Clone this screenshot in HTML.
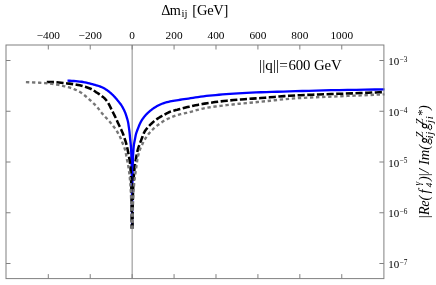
<!DOCTYPE html>
<html><head><meta charset="utf-8"><style>
html,body{margin:0;padding:0;background:#fff;}
svg{display:block;font-family:"Liberation Serif",serif;will-change:transform;opacity:0.999;}
</style></head><body>
<svg width="436" height="285" viewBox="0 0 436 285">
<rect width="436" height="285" fill="#fff"/>
<line x1="132.15" y1="45.0" x2="132.15" y2="278.6" stroke="#767676" stroke-width="0.85"/>
<g>
<path d="M67.50,80.70 L69.70,80.77 L71.83,80.87 L73.89,81.01 L75.87,81.17 L77.79,81.35 L79.65,81.55 L81.44,81.75 L83.16,82.01 L84.83,82.33 L86.45,82.69 L88.00,83.07 L89.51,83.46 L90.96,83.84 L92.36,84.19 L93.72,84.55 L95.03,84.92 L96.29,85.29 L97.52,85.65 L98.70,86.02 L99.84,86.41 L100.94,86.84 L102.00,87.30 L103.03,87.80 L104.02,88.33 L104.98,88.87 L105.90,89.43 L106.80,90.02 L107.66,90.63 L108.49,91.26 L109.30,91.89 L110.08,92.53 L110.83,93.17 L111.55,93.82 L112.25,94.48 L112.93,95.15 L113.59,95.81 L114.22,96.46 L114.83,97.12 L115.42,97.78 L115.99,98.45 L116.54,99.11 L117.07,99.76 L117.58,100.39 L118.07,100.99 L118.55,101.56 L119.02,102.12 L119.46,102.65 L119.89,103.19 L120.31,103.72 L120.71,104.27 L121.10,104.84 L121.48,105.42 L121.84,106.00 L122.19,106.58 L122.53,107.17 L122.85,107.76 L123.17,108.35 L123.47,108.93 L123.77,109.51 L124.05,110.09 L124.33,110.67 L124.59,111.25 L124.85,111.84 L125.09,112.43 L125.33,113.03 L125.56,113.64 L125.79,114.26 L126.00,114.90 L126.21,115.54 L126.41,116.18 L126.61,116.81 L126.79,117.44 L126.97,118.05 L127.15,118.64 L127.32,119.20 L127.48,119.76 L127.64,120.33 L127.79,120.92 L127.94,121.54 L128.08,122.20 L128.22,122.94 L128.35,123.76 L128.48,124.62 L128.60,125.50 L128.72,126.35 L128.84,127.14 L128.95,127.88 L129.05,128.60 L129.16,129.32 L129.26,130.07 L129.36,130.85 L129.45,131.66 L129.54,132.47 L129.63,133.29 L129.71,134.12 L129.79,134.97 L129.87,135.86 L129.95,136.75 L130.02,137.61 L130.09,138.40 L130.16,139.11 L130.23,139.74 L130.29,140.32 L130.35,140.87 L130.41,141.39 L130.47,141.89 L130.53,142.37 L130.58,142.84 L130.63,143.31 L130.68,143.78 L130.73,144.25 L130.78,144.75 L130.82,145.27 L130.87,145.82 L130.91,146.40 L130.95,147.01 L130.99,147.63 L131.03,148.26 L131.06,148.91 L131.10,149.56 L131.13,150.23 L131.16,150.90 L131.20,151.59 L131.23,152.28 L131.26,152.99 L131.29,153.70 L131.31,154.42 L131.34,155.16 L131.37,155.89 L131.39,156.64 L131.42,157.40 L131.44,158.16 L131.46,158.92 L131.48,159.70 L131.50,160.47 L131.52,161.26 L131.54,162.05 L131.56,162.84 L131.58,163.64 L131.60,164.44 L131.62,165.25 L131.63,166.06 L131.65,166.87 L131.66,167.68 L131.68,168.50 L131.69,169.31 L131.71,170.13 L131.72,170.95 L131.73,171.77 L131.75,172.59 L131.76,173.41 L131.77,174.23 L131.78,175.05 L131.79,175.87 L131.80,176.69 L131.81,177.50 L131.82,178.31 L131.83,179.12 L131.84,179.93 L131.85,180.73 L131.86,181.53 L131.87,182.32 L131.87,183.11 L131.88,183.90 L131.89,184.67 L131.90,185.45 L131.90,186.22 L131.91,186.98 L131.92,187.75 L131.92,188.51 L131.93,189.28 L131.94,190.04 L131.94,190.81 L131.95,191.57 L131.95,192.34 L131.96,193.10 L131.96,193.87 L131.97,194.63 L131.97,195.40 L131.98,196.16 L131.98,196.93 L131.98,197.69 L131.99,198.46 L131.99,199.22 L131.99,199.99 L132.00,200.75 L132.00,201.52 L132.01,202.28 L132.01,203.05 L132.01,203.81 L132.01,204.58 L132.02,205.34 L132.02,206.11 L132.02,206.87 L132.03,207.64 L132.03,208.40 L132.03,209.17 L132.03,209.93 L132.04,210.70 L132.04,211.46 L132.04,212.23 L132.04,212.99 L132.04,213.76 L132.05,214.52 L132.05,215.29 L132.05,216.05 L132.05,216.82 L132.05,217.58 L132.05,218.35 L132.06,219.11 L132.06,219.88 L132.06,220.64 L132.06,221.41 L132.06,222.17 L132.06,222.94 L132.06,223.70 L132.07,224.47 L132.07,225.23 L132.07,226.00 L132.14,226.00 L132.15,225.13 L132.15,224.26 L132.15,223.39 L132.15,222.52 L132.15,221.65 L132.16,220.78 L132.16,219.91 L132.16,219.04 L132.16,218.17 L132.17,217.30 L132.17,216.43 L132.17,215.56 L132.17,214.69 L132.18,213.82 L132.18,212.95 L132.18,212.08 L132.19,211.21 L132.19,210.34 L132.19,209.47 L132.20,208.60 L132.20,207.73 L132.21,206.86 L132.21,205.99 L132.21,205.12 L132.22,204.25 L132.22,203.38 L132.23,202.51 L132.23,201.64 L132.24,200.76 L132.25,199.89 L132.25,199.02 L132.26,198.15 L132.26,197.28 L132.27,196.41 L132.28,195.54 L132.28,194.67 L132.29,193.80 L132.30,192.93 L132.31,192.06 L132.32,191.19 L132.32,190.32 L132.33,189.45 L132.34,188.58 L132.35,187.71 L132.36,186.84 L132.37,185.97 L132.38,185.09 L132.40,184.21 L132.41,183.31 L132.42,182.40 L132.43,181.49 L132.45,180.57 L132.46,179.64 L132.47,178.70 L132.49,177.76 L132.50,176.82 L132.52,175.87 L132.54,174.92 L132.56,173.97 L132.57,173.02 L132.59,172.06 L132.61,171.11 L132.63,170.15 L132.66,169.20 L132.68,168.25 L132.70,167.30 L132.72,166.36 L132.75,165.42 L132.78,164.48 L132.80,163.55 L132.83,162.63 L132.86,161.72 L132.89,160.81 L132.92,159.91 L132.96,159.02 L132.99,158.14 L133.03,157.27 L133.06,156.42 L133.10,155.57 L133.14,154.74 L133.19,153.92 L133.23,153.12 L133.28,152.33 L133.32,151.56 L133.37,150.81 L133.42,150.07 L133.48,149.35 L133.53,148.65 L133.59,147.97 L133.65,147.31 L133.71,146.67 L133.78,146.05 L133.84,145.47 L133.91,144.92 L133.99,144.40 L134.06,143.90 L134.14,143.41 L134.23,142.94 L134.31,142.47 L134.40,142.01 L134.49,141.54 L134.59,141.05 L134.69,140.56 L134.79,140.04 L134.90,139.50 L135.01,138.93 L135.13,138.30 L135.25,137.64 L135.38,136.95 L135.51,136.24 L135.65,135.54 L135.79,134.87 L135.94,134.23 L136.10,133.64 L136.26,133.08 L136.43,132.56 L136.60,132.05 L136.78,131.55 L136.97,131.05 L137.17,130.55 L137.37,130.04 L137.58,129.51 L137.80,128.95 L138.03,128.36 L138.27,127.73 L138.52,127.08 L138.78,126.41 L139.05,125.73 L139.33,125.04 L139.62,124.36 L139.92,123.69 L140.24,123.03 L140.56,122.39 L140.90,121.76 L141.26,121.13 L141.63,120.51 L142.01,119.90 L142.41,119.28 L142.82,118.67 L143.26,118.06 L143.71,117.46 L144.17,116.86 L144.66,116.26 L145.17,115.66 L145.69,115.07 L146.24,114.48 L146.81,113.89 L147.40,113.30 L148.02,112.72 L148.66,112.14 L149.32,111.56 L150.02,110.98 L150.74,110.39 L151.49,109.79 L152.27,109.18 L153.08,108.59 L153.93,108.01 L154.81,107.45 L155.72,106.89 L156.67,106.34 L157.66,105.82 L158.69,105.29 L159.76,104.76 L160.88,104.25 L162.04,103.76 L163.24,103.29 L164.50,102.87 L165.80,102.48 L167.16,102.12 L168.57,101.78 L170.04,101.46 L171.56,101.15 L173.15,100.86 L174.81,100.59 L176.53,100.31 L178.32,100.03 L180.18,99.74 L182.11,99.45 L184.13,99.15 L186.22,98.85 L188.40,98.53 L190.67,98.20 L193.03,97.84 L195.48,97.46 L198.03,97.07 L200.69,96.68 L203.45,96.31 L206.33,95.96 L209.31,95.64 L212.42,95.33 L215.66,95.02 L219.02,94.73 L222.52,94.44 L226.17,94.16 L229.95,93.89 L233.89,93.63 L237.99,93.38 L242.26,93.13 L246.69,92.90 L251.31,92.67 L256.11,92.46 L261.10,92.26 L266.30,92.07 L271.70,91.90 L277.32,91.73 L283.17,91.56 L289.26,91.39 L295.59,91.21 L302.17,91.02 L309.02,90.80 L316.14,90.59 L323.55,90.38 L331.26,90.20 L339.28,90.04 L347.63,89.92 L356.31,89.80 L365.34,89.64 L374.73,89.48 L384.50,89.30" fill="none" stroke="#0000ff" stroke-width="2.3" stroke-linejoin="round"/>
<path d="M46.80,82.00 L49.37,82.00 L51.87,82.02 L54.29,82.14 L56.64,82.32 L58.92,82.52 L61.13,82.71 L63.27,82.92 L65.35,83.15 L67.36,83.40 L69.32,83.64 L71.21,83.88 L73.05,84.13 L74.83,84.39 L76.56,84.67 L78.24,84.99 L79.86,85.34 L81.44,85.74 L82.97,86.17 L84.45,86.61 L85.89,87.06 L87.28,87.52 L88.64,87.98 L89.95,88.47 L91.22,89.02 L92.45,89.67 L93.65,90.45 L94.81,91.28 L95.94,92.06 L97.03,92.76 L98.09,93.42 L99.11,94.08 L100.11,94.75 L101.07,95.45 L102.01,96.16 L102.92,96.88 L103.80,97.63 L104.65,98.44 L105.48,99.31 L106.28,100.28 L107.06,101.32 L107.82,102.43 L108.55,103.59 L109.26,104.83 L109.95,106.21 L110.62,107.62 L111.27,108.94 L111.90,110.20 L112.51,111.42 L113.10,112.60 L113.67,113.74 L114.23,114.84 L114.77,115.90 L115.29,116.95 L115.80,118.01 L116.29,119.10 L116.76,120.20 L117.23,121.26 L117.68,122.26 L118.11,123.19 L118.53,124.07 L118.94,124.93 L119.34,125.75 L119.72,126.55 L120.10,127.32 L120.46,128.06 L120.81,128.77 L121.15,129.47 L121.48,130.19 L121.80,130.92 L122.11,131.65 L122.41,132.38 L122.70,133.10 L122.99,133.83 L123.26,134.55 L123.53,135.28 L123.79,136.01 L124.04,136.73 L124.28,137.45 L124.51,138.16 L124.74,138.86 L124.96,139.53 L125.18,140.19 L125.39,140.83 L125.59,141.47 L125.78,142.11 L125.97,142.75 L126.16,143.40 L126.34,144.06 L126.51,144.72 L126.68,145.40 L126.84,146.07 L127.00,146.74 L127.15,147.41 L127.30,148.07 L127.44,148.74 L127.58,149.42 L127.72,150.10 L127.85,150.77 L127.98,151.43 L128.10,152.07 L128.22,152.69 L128.34,153.29 L128.45,153.86 L128.56,154.41 L128.66,154.95 L128.76,155.48 L128.86,156.00 L128.96,156.52 L129.05,157.03 L129.14,157.54 L129.23,158.05 L129.32,158.56 L129.40,159.06 L129.48,159.54 L129.56,160.02 L129.63,160.50 L129.70,160.98 L129.77,161.45 L129.84,161.93 L129.91,162.41 L129.97,162.91 L130.03,163.41 L130.09,163.92 L130.15,164.45 L130.21,165.00 L130.26,165.56 L130.31,166.14 L130.37,166.72 L130.42,167.31 L130.46,167.91 L130.51,168.51 L130.55,169.13 L130.60,169.75 L130.64,170.38 L130.68,171.02 L130.72,171.67 L130.76,172.32 L130.80,172.98 L130.83,173.64 L130.87,174.31 L130.90,174.99 L130.93,175.67 L130.96,176.35 L130.99,177.04 L131.02,177.73 L131.05,178.43 L131.08,179.13 L131.10,179.83 L131.13,180.53 L131.15,181.24 L131.18,181.95 L131.20,182.66 L131.22,183.37 L131.24,184.09 L131.26,184.80 L131.28,185.52 L131.30,186.23 L131.32,186.95 L131.33,187.66 L131.35,188.37 L131.37,189.09 L131.38,189.80 L131.40,190.51 L131.41,191.21 L131.43,191.92 L131.44,192.62 L131.45,193.32 L131.46,194.01 L131.47,194.70 L131.49,195.39 L131.50,196.07 L131.51,196.75 L131.52,197.43 L131.53,198.10 L131.53,198.78 L131.54,199.45 L131.55,200.13 L131.56,200.80 L131.57,201.48 L131.57,202.16 L131.58,202.83 L131.59,203.51 L131.59,204.18 L131.60,204.86 L131.60,205.53 L131.61,206.21 L131.61,206.88 L131.62,207.56 L131.62,208.23 L131.63,208.91 L131.63,209.59 L131.63,210.26 L131.64,210.94 L131.64,211.61 L131.65,212.29 L131.65,212.96 L131.65,213.64 L131.65,214.31 L131.66,214.99 L131.66,215.67 L131.66,216.34 L131.66,217.02 L131.67,217.69 L131.67,218.37 L131.67,219.04 L131.67,219.72 L131.67,220.39 L131.67,221.07 L131.68,221.74 L131.68,222.42 L131.68,223.10 L131.68,223.77 L131.68,224.45 L131.68,225.12 L131.68,225.80 L131.68,226.47 L131.69,227.15 L131.69,227.82 L131.69,228.50" fill="none" stroke="#000000" stroke-width="2.55" stroke-linejoin="round" stroke-dasharray="7.137,2.513"/>
<path d="M132.53,228.50 L132.53,227.76 L132.53,227.01 L132.54,226.27 L132.54,225.53 L132.54,224.79 L132.54,224.04 L132.55,223.30 L132.55,222.56 L132.55,221.81 L132.56,221.07 L132.56,220.33 L132.56,219.58 L132.57,218.84 L132.57,218.10 L132.58,217.36 L132.58,216.61 L132.59,215.87 L132.59,215.13 L132.60,214.38 L132.60,213.64 L132.61,212.90 L132.62,212.15 L132.63,211.41 L132.63,210.67 L132.64,209.93 L132.65,209.18 L132.66,208.44 L132.67,207.70 L132.68,206.95 L132.69,206.21 L132.70,205.47 L132.71,204.72 L132.72,203.98 L132.74,203.24 L132.75,202.50 L132.76,201.75 L132.78,201.01 L132.79,200.27 L132.81,199.52 L132.83,198.78 L132.84,198.04 L132.86,197.29 L132.88,196.55 L132.90,195.81 L132.92,195.06 L132.94,194.31 L132.96,193.56 L132.99,192.81 L133.01,192.05 L133.04,191.30 L133.06,190.54 L133.09,189.78 L133.12,189.03 L133.15,188.27 L133.18,187.51 L133.21,186.75 L133.24,185.99 L133.28,185.23 L133.32,184.47 L133.35,183.71 L133.39,182.95 L133.43,182.19 L133.47,181.43 L133.52,180.68 L133.56,179.92 L133.61,179.17 L133.65,178.42 L133.70,177.67 L133.76,176.92 L133.81,176.17 L133.87,175.42 L133.92,174.68 L133.98,173.94 L134.04,173.21 L134.11,172.47 L134.17,171.74 L134.24,171.01 L134.31,170.29 L134.39,169.57 L134.46,168.85 L134.54,168.14 L134.62,167.43 L134.71,166.72 L134.79,166.02 L134.89,165.32 L134.98,164.63 L135.08,163.97 L135.18,163.32 L135.28,162.68 L135.39,162.05 L135.50,161.42 L135.61,160.78 L135.73,160.12 L135.85,159.45 L135.98,158.76 L136.11,158.04 L136.25,157.26 L136.39,156.43 L136.54,155.57 L136.69,154.70 L136.84,153.86 L137.01,153.05 L137.17,152.29 L137.35,151.55 L137.52,150.83 L137.71,150.11 L137.90,149.41 L138.10,148.72 L138.30,148.03 L138.51,147.36 L138.73,146.70 L138.96,146.06 L139.19,145.42 L139.44,144.77 L139.69,144.10 L139.95,143.40 L140.22,142.68 L140.49,141.93 L140.78,141.17 L141.08,140.39 L141.38,139.59 L141.70,138.77 L142.03,137.91 L142.37,136.99 L142.72,136.01 L143.09,135.03 L143.46,134.06 L143.85,133.14 L144.25,132.29 L144.67,131.54 L145.10,130.84 L145.55,130.19 L146.01,129.57 L146.48,128.96 L146.98,128.34 L147.49,127.71 L148.01,127.10 L148.56,126.49 L149.12,125.89 L149.71,125.29 L150.31,124.69 L150.93,124.08 L151.58,123.47 L152.25,122.86 L152.94,122.25 L153.65,121.64 L154.39,121.03 L155.15,120.42 L155.94,119.82 L156.76,119.22 L157.60,118.63 L158.48,118.05 L159.38,117.47 L160.32,116.89 L161.29,116.32 L162.29,115.75 L163.32,115.18 L164.39,114.61 L165.50,114.01 L166.64,113.40 L167.83,112.79 L169.05,112.21 L170.32,111.66 L171.63,111.19 L172.98,110.78 L174.39,110.42 L175.83,110.06 L177.33,109.70 L178.88,109.29 L180.49,108.87 L182.15,108.43 L183.86,107.98 L185.64,107.53 L187.47,107.08 L189.37,106.64 L191.34,106.21 L193.37,105.76 L195.47,105.32 L197.64,104.88 L199.89,104.45 L202.21,104.03 L204.61,103.62 L207.10,103.23 L209.67,102.85 L212.33,102.47 L215.08,102.11 L217.92,101.75 L220.87,101.39 L223.91,101.05 L227.06,100.71 L230.31,100.38 L233.68,100.06 L237.16,99.75 L240.77,99.46 L244.49,99.18 L248.34,98.91 L252.33,98.64 L256.45,98.36 L260.71,98.05 L265.12,97.70 L269.68,97.32 L274.40,96.92 L279.28,96.52 L284.33,96.14 L289.55,95.77 L294.94,95.46 L300.53,95.18 L306.30,94.93 L312.27,94.70 L318.45,94.49 L324.84,94.27 L331.45,94.05 L338.28,93.82 L345.35,93.60 L352.66,93.37 L360.22,93.09 L368.04,92.76 L376.13,92.40 L384.50,92.00" fill="none" stroke="#000000" stroke-width="2.55" stroke-linejoin="round" stroke-dasharray="7.137,2.513" stroke-dashoffset="0.393"/>
<path d="M25.90,82.10 L28.86,82.21 L31.75,82.33 L34.55,82.46 L37.27,82.58 L39.92,82.72 L42.49,82.88 L44.99,83.06 L47.42,83.29 L49.79,83.57 L52.09,83.86 L54.32,84.16 L56.49,84.48 L58.60,84.85 L60.65,85.32 L62.65,85.82 L64.59,86.29 L66.47,86.72 L68.30,87.17 L70.08,87.68 L71.82,88.26 L73.50,88.89 L75.13,89.56 L76.73,90.27 L78.27,91.04 L79.77,91.87 L81.23,92.79 L82.65,93.82 L84.03,94.90 L85.38,95.99 L86.68,97.07 L87.95,98.16 L89.18,99.26 L90.38,100.36 L91.54,101.45 L92.68,102.51 L93.78,103.56 L94.85,104.60 L95.89,105.66 L96.90,106.75 L97.88,107.90 L98.83,109.11 L99.76,110.33 L100.67,111.53 L101.54,112.65 L102.40,113.67 L103.22,114.62 L104.03,115.53 L104.81,116.39 L105.58,117.23 L106.32,118.04 L107.04,118.83 L107.73,119.58 L108.41,120.31 L109.08,121.04 L109.72,121.75 L110.34,122.47 L110.95,123.19 L111.54,123.91 L112.11,124.62 L112.67,125.32 L113.21,126.02 L113.74,126.70 L114.25,127.37 L114.75,128.01 L115.23,128.64 L115.70,129.28 L116.16,129.95 L116.61,130.67 L117.04,131.43 L117.46,132.19 L117.87,132.91 L118.26,133.60 L118.65,134.27 L119.02,134.93 L119.39,135.60 L119.74,136.28 L120.09,136.98 L120.42,137.72 L120.75,138.50 L121.06,139.29 L121.37,140.09 L121.67,140.87 L121.96,141.61 L122.24,142.30 L122.52,142.95 L122.78,143.57 L123.04,144.18 L123.30,144.78 L123.54,145.39 L123.78,146.01 L124.01,146.65 L124.24,147.27 L124.45,147.90 L124.67,148.53 L124.87,149.17 L125.07,149.85 L125.27,150.56 L125.46,151.32 L125.64,152.18 L125.82,153.12 L126.00,154.10 L126.17,155.09 L126.33,156.06 L126.49,156.99 L126.65,157.84 L126.80,158.60 L126.94,159.33 L127.09,160.03 L127.22,160.70 L127.36,161.35 L127.49,161.98 L127.62,162.61 L127.74,163.23 L127.86,163.85 L127.98,164.48 L128.09,165.12 L128.20,165.77 L128.31,166.41 L128.41,167.05 L128.51,167.69 L128.61,168.33 L128.71,168.97 L128.80,169.60 L128.89,170.24 L128.98,170.87 L129.06,171.50 L129.14,172.13 L129.22,172.76 L129.30,173.39 L129.38,174.02 L129.45,174.65 L129.52,175.27 L129.59,175.90 L129.66,176.52 L129.72,177.14 L129.79,177.76 L129.85,178.39 L129.91,179.01 L129.97,179.63 L130.02,180.25 L130.08,180.87 L130.13,181.48 L130.18,182.10 L130.23,182.72 L130.28,183.34 L130.33,183.96 L130.37,184.57 L130.42,185.19 L130.46,185.81 L130.50,186.42 L130.54,187.04 L130.58,187.66 L130.62,188.27 L130.65,188.89 L130.69,189.51 L130.72,190.13 L130.76,190.74 L130.79,191.36 L130.82,191.98 L130.85,192.60 L130.88,193.22 L130.91,193.84 L130.94,194.46 L130.96,195.08 L130.99,195.70 L131.01,196.33 L131.04,196.95 L131.06,197.57 L131.08,198.20 L131.10,198.82 L131.12,199.44 L131.14,200.07 L131.16,200.69 L131.18,201.32 L131.20,201.94 L131.22,202.57 L131.23,203.19 L131.25,203.81 L131.27,204.44 L131.28,205.06 L131.29,205.69 L131.31,206.31 L131.32,206.93 L131.33,207.56 L131.35,208.18 L131.36,208.81 L131.37,209.43 L131.38,210.05 L131.39,210.68 L131.40,211.30 L131.41,211.93 L131.42,212.55 L131.43,213.17 L131.44,213.80 L131.44,214.42 L131.45,215.05 L131.46,215.67 L131.47,216.29 L131.47,216.92 L131.48,217.54 L131.48,218.17 L131.49,218.79 L131.50,219.41 L131.50,220.04 L131.51,220.66 L131.51,221.29 L131.52,221.91 L131.52,222.54 L131.52,223.16 L131.53,223.78 L131.53,224.41 L131.54,225.03 L131.54,225.66 L131.54,226.28 L131.54,226.90 L131.55,227.53 L131.55,228.15 L131.55,228.78 L131.56,229.40" fill="none" stroke="#767676" stroke-width="2.35" stroke-linejoin="round" stroke-dasharray="3.380,2.684"/>
<path d="M132.66,229.40 L132.66,228.70 L132.66,228.00 L132.67,227.30 L132.67,226.60 L132.67,225.90 L132.68,225.20 L132.68,224.50 L132.69,223.81 L132.69,223.11 L132.70,222.41 L132.71,221.71 L132.71,221.01 L132.72,220.31 L132.73,219.61 L132.73,218.91 L132.74,218.21 L132.75,217.51 L132.76,216.81 L132.77,216.11 L132.78,215.41 L132.79,214.71 L132.80,214.01 L132.81,213.32 L132.82,212.62 L132.83,211.92 L132.85,211.22 L132.86,210.52 L132.87,209.82 L132.89,209.12 L132.90,208.42 L132.92,207.72 L132.93,207.02 L132.95,206.32 L132.97,205.62 L132.99,204.92 L133.01,204.22 L133.03,203.52 L133.05,202.83 L133.07,202.13 L133.10,201.43 L133.12,200.73 L133.15,200.03 L133.17,199.33 L133.20,198.63 L133.23,197.93 L133.26,197.23 L133.29,196.54 L133.32,195.85 L133.35,195.17 L133.38,194.50 L133.42,193.83 L133.46,193.17 L133.49,192.52 L133.53,191.87 L133.57,191.23 L133.62,190.59 L133.66,189.95 L133.71,189.32 L133.75,188.69 L133.80,188.06 L133.85,187.43 L133.90,186.80 L133.96,186.17 L134.01,185.54 L134.07,184.91 L134.13,184.27 L134.19,183.63 L134.25,182.99 L134.32,182.35 L134.39,181.70 L134.46,181.05 L134.53,180.39 L134.61,179.72 L134.68,179.05 L134.76,178.37 L134.85,177.68 L134.93,176.98 L135.02,176.27 L135.11,175.56 L135.21,174.83 L135.30,174.09 L135.41,173.34 L135.51,172.58 L135.62,171.81 L135.73,171.02 L135.84,170.22 L135.96,169.40 L136.08,168.57 L136.21,167.72 L136.34,166.86 L136.48,165.98 L136.62,165.08 L136.76,164.10 L136.91,162.99 L137.06,161.80 L137.22,160.60 L137.38,159.45 L137.55,158.39 L137.73,157.47 L137.91,156.64 L138.09,155.85 L138.28,155.10 L138.48,154.36 L138.69,153.62 L138.90,152.87 L139.12,152.12 L139.34,151.38 L139.57,150.65 L139.81,149.94 L140.06,149.25 L140.32,148.58 L140.58,147.95 L140.85,147.33 L141.13,146.73 L141.42,146.12 L141.72,145.51 L142.03,144.87 L142.35,144.21 L142.68,143.51 L143.02,142.79 L143.37,142.06 L143.74,141.33 L144.11,140.61 L144.50,139.92 L144.90,139.26 L145.31,138.62 L145.73,137.98 L146.17,137.34 L146.63,136.69 L147.09,136.02 L147.58,135.36 L148.07,134.69 L148.59,134.02 L149.12,133.36 L149.67,132.71 L150.23,132.06 L150.82,131.42 L151.42,130.78 L152.04,130.14 L152.69,129.50 L153.35,128.86 L154.03,128.23 L154.74,127.59 L155.47,126.96 L156.22,126.33 L157.00,125.70 L157.80,125.07 L158.63,124.44 L159.49,123.80 L160.37,123.17 L161.28,122.54 L162.22,121.92 L163.19,121.31 L164.19,120.72 L165.23,120.15 L166.30,119.59 L167.40,119.04 L168.54,118.51 L169.71,117.98 L170.92,117.46 L172.18,116.94 L173.47,116.42 L174.80,115.90 L176.18,115.41 L177.60,114.95 L179.06,114.54 L180.58,114.18 L182.14,113.83 L183.75,113.48 L185.42,113.10 L187.14,112.70 L188.91,112.27 L190.74,111.81 L192.63,111.30 L194.59,110.76 L196.60,110.20 L198.68,109.63 L200.83,109.08 L203.04,108.56 L205.33,108.08 L207.69,107.65 L210.13,107.25 L212.64,106.87 L215.24,106.50 L217.92,106.15 L220.68,105.81 L223.54,105.47 L226.49,105.13 L229.53,104.80 L232.67,104.46 L235.91,104.11 L239.26,103.76 L242.71,103.42 L246.28,103.08 L249.96,102.74 L253.76,102.39 L257.68,102.02 L261.73,101.63 L265.91,101.19 L270.22,100.72 L274.68,100.24 L279.27,99.75 L284.02,99.28 L288.92,98.83 L293.97,98.44 L299.19,98.10 L304.58,97.80 L310.14,97.51 L315.88,97.25 L321.80,96.99 L327.92,96.74 L334.23,96.47 L340.75,96.21 L347.47,95.94 L354.42,95.67 L361.58,95.36 L368.98,95.03 L376.62,94.67 L384.50,94.30" fill="none" stroke="#767676" stroke-width="2.35" stroke-linejoin="round" stroke-dasharray="3.380,2.684" stroke-dashoffset="5.587"/>
</g>
<rect x="6.0" y="45.0" width="377.9" height="233.60000000000002" fill="none" stroke="#808080" stroke-width="1"/>
<g stroke="#808080" stroke-width="1">
<line x1="48.31" y1="45.0" x2="48.31" y2="49.5"/>
<line x1="48.31" y1="278.6" x2="48.31" y2="274.1"/>
<line x1="90.23" y1="45.0" x2="90.23" y2="49.5"/>
<line x1="90.23" y1="278.6" x2="90.23" y2="274.1"/>
<line x1="132.15" y1="45.0" x2="132.15" y2="49.5"/>
<line x1="132.15" y1="278.6" x2="132.15" y2="274.1"/>
<line x1="174.07" y1="45.0" x2="174.07" y2="49.5"/>
<line x1="174.07" y1="278.6" x2="174.07" y2="274.1"/>
<line x1="215.99" y1="45.0" x2="215.99" y2="49.5"/>
<line x1="215.99" y1="278.6" x2="215.99" y2="274.1"/>
<line x1="257.91" y1="45.0" x2="257.91" y2="49.5"/>
<line x1="257.91" y1="278.6" x2="257.91" y2="274.1"/>
<line x1="299.83" y1="45.0" x2="299.83" y2="49.5"/>
<line x1="299.83" y1="278.6" x2="299.83" y2="274.1"/>
<line x1="341.75" y1="45.0" x2="341.75" y2="49.5"/>
<line x1="341.75" y1="278.6" x2="341.75" y2="274.1"/>
<line x1="6.0" y1="60.50" x2="10.5" y2="60.50"/>
<line x1="383.9" y1="60.50" x2="379.4" y2="60.50"/>
<line x1="6.0" y1="111.25" x2="10.5" y2="111.25"/>
<line x1="383.9" y1="111.25" x2="379.4" y2="111.25"/>
<line x1="6.0" y1="162.00" x2="10.5" y2="162.00"/>
<line x1="383.9" y1="162.00" x2="379.4" y2="162.00"/>
<line x1="6.0" y1="212.75" x2="10.5" y2="212.75"/>
<line x1="383.9" y1="212.75" x2="379.4" y2="212.75"/>
<line x1="6.0" y1="263.50" x2="10.5" y2="263.50"/>
<line x1="383.9" y1="263.50" x2="379.4" y2="263.50"/>
</g>
<g fill="#000">
<text x="48.31" y="38.5" text-anchor="middle" font-size="11.3">−400</text>
<text x="90.23" y="38.5" text-anchor="middle" font-size="11.3">−200</text>
<text x="132.15" y="38.5" text-anchor="middle" font-size="11.3">0</text>
<text x="174.07" y="38.5" text-anchor="middle" font-size="11.3">200</text>
<text x="215.99" y="38.5" text-anchor="middle" font-size="11.3">400</text>
<text x="257.91" y="38.5" text-anchor="middle" font-size="11.3">600</text>
<text x="299.83" y="38.5" text-anchor="middle" font-size="11.3">800</text>
<text x="341.75" y="38.5" text-anchor="middle" font-size="11.3">1000</text>
<text x="388.3" y="65.10" font-size="11">10<tspan dy="-3.2" dx="0.3" font-size="7.3">−3</tspan></text>
<text x="388.3" y="115.85" font-size="11">10<tspan dy="-3.2" dx="0.3" font-size="7.3">−4</tspan></text>
<text x="388.3" y="166.60" font-size="11">10<tspan dy="-3.2" dx="0.3" font-size="7.3">−5</tspan></text>
<text x="388.3" y="217.35" font-size="11">10<tspan dy="-3.2" dx="0.3" font-size="7.3">−6</tspan></text>
<text x="388.3" y="268.10" font-size="11">10<tspan dy="-3.2" dx="0.3" font-size="7.3">−7</tspan></text>
<text x="161.2" y="15.0" font-size="14.3" textLength="19.7">Δm</text>
<text x="181.4" y="17.4" font-size="10.8">ij</text>
<text x="192.3" y="15.0" font-size="14.5" textLength="36.1">[GeV]</text>
<text x="259.1" y="70.2" font-size="15.2" textLength="28.7">||q||=</text>
<text x="288.4" y="70.2" font-size="14.8" textLength="53.3">600 GeV</text>
<g transform="translate(428.5,217.5) rotate(-90)" font-size="14.5" font-style="italic">
<text x="-1.6" y="0" textLength="23.5">|Re(</text>
<text x="24.0" y="0">f</text>
<text x="30.2" y="3.5" font-size="9">4</text>
<text x="31.9" y="-7.8" font-size="9.5">γ</text>
<text x="36.6" y="0">)</text>
<text x="40.6" y="0">|/</text>
<text x="52.5" y="0">Im(</text>
<g transform="translate(73.0,0)" fill="none" stroke="#000" stroke-linecap="round">
<ellipse cx="4.1" cy="-3.9" rx="1.75" ry="2.2" transform="rotate(14 4.1 -3.9)" stroke-width="1.15"/>
<path d="M5.6,-5.3 L7.1,-5.5" stroke-width="0.9"/>
<path d="M3.2,-2.0 C1.6,-1.4 1.5,-0.3 3.0,-0.1 C5.4,0.2 6.4,0.8 5.6,2.1 C4.8,3.5 0.4,3.6 0.3,1.9 C0.2,0.7 1.6,0.2 3.0,-0.1" stroke-width="0.95"/>
</g>
<text x="79" y="4.0" font-size="11" textLength="6.8">ij</text>
<text x="80.1" y="-5.5" font-size="11">Z</text>
<g transform="translate(87.4,0)" fill="none" stroke="#000" stroke-linecap="round">
<ellipse cx="4.1" cy="-3.9" rx="1.75" ry="2.2" transform="rotate(14 4.1 -3.9)" stroke-width="1.15"/>
<path d="M5.6,-5.3 L7.1,-5.5" stroke-width="0.9"/>
<path d="M3.2,-2.0 C1.6,-1.4 1.5,-0.3 3.0,-0.1 C5.4,0.2 6.4,0.8 5.6,2.1 C4.8,3.5 0.4,3.6 0.3,1.9 C0.2,0.7 1.6,0.2 3.0,-0.1" stroke-width="0.95"/>
</g>
<text x="94.6" y="4.0" font-size="11" textLength="6.8">ji</text>
<text x="93.1" y="-5.5" font-size="11">Z</text>
<text x="101.0" y="-2.2" font-size="13">*</text>
<text x="107.5" y="0">)</text>
</g>
</g>
</svg>
</body></html>
